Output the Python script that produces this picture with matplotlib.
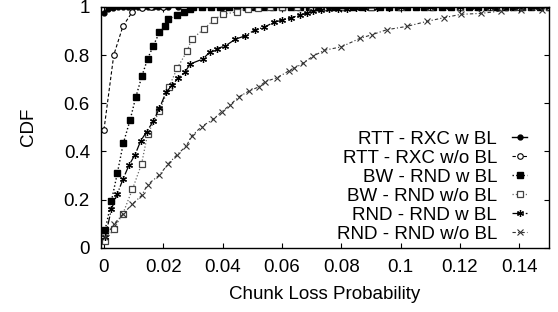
import matplotlib
matplotlib.use("Agg")
import matplotlib.pyplot as plt

plt.rcParams['font.family'] = ['Liberation Sans', 'DejaVu Sans']

# RTT - RXC w BL
rtt_bl_x = [0, 0.0012, 0.0029, 0.0046, 0.0063, 0.008, 0.0097, 0.0114, 0.0131, 0.0148,
            0.0165, 0.0182, 0.0199, 0.0216, 0.025, 0.03, 0.04, 0.05, 0.06, 0.08, 0.1, 0.12, 0.15]
rtt_bl_y = [0.975, 0.993, 0.997, 0.998, 0.999, 1, 1, 1, 1, 1,
            1, 1, 1, 1, 1, 1, 1, 1, 1, 1, 1, 1, 1]

# RTT - RXC w/o BL
rtt_nobl_x = [0, 0.0033, 0.0064, 0.0096, 0.0127, 0.016, 0.02, 0.03, 0.05, 0.08, 0.1, 0.15]
rtt_nobl_y = [0.49, 0.80, 0.92, 0.98, 0.995, 1, 1, 1, 1, 1, 1, 1]

# shared x positions where saturated curves sit at 1
tail_x = [0.033, 0.036, 0.039, 0.042, 0.045, 0.048, 0.051, 0.054, 0.057, 0.06, 0.063, 0.066,
          0.069, 0.072, 0.075, 0.078, 0.081, 0.084, 0.087, 0.09, 0.093, 0.096, 0.099, 0.102,
          0.105, 0.108, 0.111, 0.114, 0.117, 0.12, 0.123, 0.126, 0.129, 0.132, 0.135, 0.138,
          0.141, 0.144, 0.147, 0.15]

# BW - RND w BL
bw_bl_x = [0.0004, 0.0025, 0.0045, 0.0065, 0.0088, 0.0107, 0.0128, 0.0147, 0.0166, 0.0187,
           0.0206, 0.0217, 0.0247, 0.027, 0.0289, 0.03] + tail_x
bw_bl_y = [0.074, 0.193, 0.309, 0.433, 0.53, 0.624, 0.713, 0.784, 0.838, 0.894,
           0.922, 0.95, 0.966, 0.979, 0.99, 0.998] + [1] * len(tail_x)

# BW - RND w/o BL
bw_nobl_x = [0.0004, 0.0033, 0.0064, 0.0096, 0.0127, 0.0147, 0.0187, 0.0219, 0.0247, 0.028,
             0.0295, 0.0338, 0.037, 0.04, 0.045, 0.0484, 0.052, 0.056, 0.06, 0.065, 0.07,
             0.075, 0.08, 0.09, 0.1, 0.11, 0.12, 0.13, 0.14, 0.15]
bw_nobl_y = [0.026, 0.078, 0.142, 0.243, 0.349, 0.472, 0.567, 0.667, 0.746, 0.816,
             0.865, 0.909, 0.946, 0.969, 0.98, 0.993, 0.997, 0.999, 1, 1, 1,
             1, 1, 1, 1, 1, 1, 1, 1, 1]

# RND - RND w BL
rnd_bl_x = [0.0004, 0.0025, 0.0045, 0.0064, 0.0084, 0.0105, 0.0124, 0.0144, 0.0166, 0.0187,
            0.0209, 0.023, 0.0251, 0.0272, 0.0291, 0.0334, 0.0357, 0.038, 0.0408, 0.0442,
            0.0476, 0.051, 0.0539, 0.0573, 0.0601, 0.063, 0.066, 0.0685, 0.0703, 0.073,
            0.076, 0.079, 0.082, 0.085, 0.088, 0.092, 0.096, 0.1, 0.105, 0.11, 0.115, 0.12,
            0.125, 0.13, 0.135, 0.14, 0.145, 0.15]
rnd_bl_y = [0.043, 0.16, 0.224, 0.284, 0.342, 0.387, 0.444, 0.482, 0.525, 0.579,
            0.645, 0.675, 0.706, 0.728, 0.763, 0.784, 0.813, 0.827, 0.837, 0.865,
            0.88, 0.905, 0.915, 0.936, 0.945, 0.955, 0.965, 0.975, 0.982, 0.986,
            0.99, 0.992, 0.993, 0.994, 0.995, 0.996, 0.997, 0.998, 0.999, 1, 1, 1,
            1, 1, 1, 1, 1, 1]

# RND - RND w/o BL
rnd_nobl_x = [0.0004, 0.0033, 0.0064, 0.0095, 0.0127, 0.0147, 0.0187, 0.0217, 0.0247, 0.0278,
              0.0295, 0.0329, 0.0368, 0.0397, 0.0425, 0.0454, 0.0488, 0.0522, 0.0544, 0.0584,
              0.0624, 0.0641, 0.067, 0.0703, 0.0743, 0.08, 0.0862, 0.0902, 0.0953, 0.1021,
              0.1089, 0.1146, 0.1203, 0.1271, 0.1339, 0.1407, 0.1475]
rnd_nobl_y = [0.043, 0.097, 0.14, 0.18, 0.217, 0.262, 0.302, 0.349, 0.387, 0.423,
              0.463, 0.503, 0.533, 0.565, 0.593, 0.626, 0.65, 0.668, 0.69, 0.706,
              0.735, 0.745, 0.765, 0.794, 0.82, 0.834, 0.869, 0.884, 0.905, 0.919,
              0.94, 0.955, 0.969, 0.973, 0.983, 0.986, 0.988]

xticks = [0, 0.02, 0.04, 0.06, 0.08, 0.1, 0.12, 0.14]
xticklabels = ['0', '0.02', '0.04', '0.06', '0.08', '0.1', '0.12', '0.14']
yticks = [0, 0.2, 0.4, 0.6, 0.8, 1]
yticklabels = ['0', '0.2', '0.4', '0.6', '0.8', '1']

fs = 13.5

fig = plt.figure(figsize=(5.58, 3.12), dpi=100)
ax = fig.add_axes([0.181, 0.206, 0.803, 0.772])

ax.plot(rtt_bl_x, rtt_bl_y, '-', color='black', lw=1, marker='o', ms=3.5,
        label='RTT - RXC w BL')
ax.plot(rtt_nobl_x, rtt_nobl_y, '--', color='black', lw=0.8, marker='o', ms=4,
        mfc='white', mew=0.8, dashes=(3, 2), label='RTT - RXC w/o BL')
ax.plot(bw_bl_x, bw_bl_y, ':', color='black', lw=1, marker='s', ms=5,
        label='BW - RND w BL')
ax.plot(bw_nobl_x, bw_nobl_y, ':', color='#666666', lw=0.9, marker='s', ms=4.5,
        mfc='white', mec='#444444', mew=0.9, label='BW - RND w/o BL')
ax.plot(rnd_bl_x, rnd_bl_y, '-.', color='black', lw=0.9, marker=(6, 2, 0), ms=5,
        mew=0.9, label='RND - RND w BL')
ax.plot(rnd_nobl_x, rnd_nobl_y, color='#333333', lw=0.8, marker='x', ms=4.5,
        mew=0.8, dashes=(3, 2, 1, 2), label='RND - RND w/o BL')

ax.set_xlim(-0.001, 0.15)
ax.set_ylim(0, 1)
ax.set_xticks(xticks)
ax.set_xticklabels(xticklabels)
ax.set_yticks(yticks)
ax.set_yticklabels(yticklabels)
ax.tick_params(direction='in', top=True, right=True, length=3.5, width=0.8,
               labelsize=fs, pad=8)
for s in ax.spines.values():
    s.set_linewidth(1)

ax.set_xlabel('Chunk Loss Probability', fontsize=fs, labelpad=7)
ax.set_ylabel('CDF', fontsize=fs, labelpad=19)

leg = ax.legend(loc='lower right', bbox_to_anchor=(0.951, 0.02), frameon=False,
                markerfirst=False, fontsize=fs, handlelength=0.8, handletextpad=0.8,
                labelspacing=0.1, borderpad=0, borderaxespad=0)

fig.savefig('out.png', dpi=100)
